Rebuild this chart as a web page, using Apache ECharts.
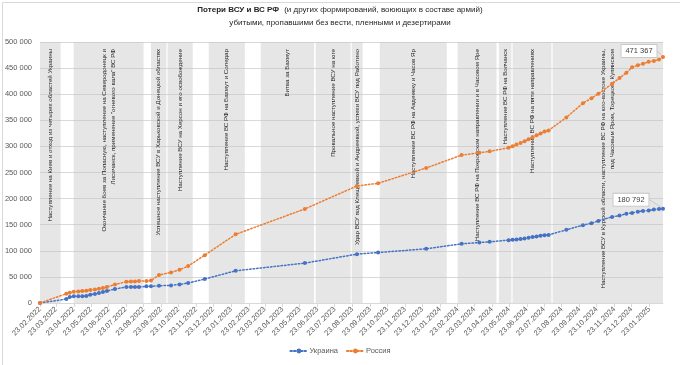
<!DOCTYPE html>
<html>
<head>
<meta charset="utf-8">
<script src="https://cdn.jsdelivr.net/npm/echarts@6/dist/echarts.min.js"></script>
<style>html,body{margin:0;padding:0;background:#fff}#c{width:680px;height:365px}</style>
</head>
<body>
<div id="c"></div>
<script>
var dates = ['2022-02-23','2022-04-10','2022-04-16','2022-04-23','2022-05-01','2022-05-08','2022-05-15','2022-05-22','2022-05-30','2022-06-06','2022-06-13','2022-06-20','2022-07-04','2022-07-24','2022-08-01','2022-08-08','2022-08-15','2022-08-28','2022-09-05','2022-09-19','2022-10-10','2022-10-25','2022-11-09','2022-12-08','2023-01-31','2023-06-01','2023-08-31','2023-10-07','2023-12-30','2024-03-01','2024-04-01','2024-04-19','2024-05-22','2024-05-29','2024-06-05','2024-06-12','2024-06-19','2024-06-26','2024-07-03','2024-07-10','2024-07-17','2024-07-24','2024-07-31','2024-08-31','2024-09-29','2024-10-14','2024-10-26','2024-11-19','2024-12-02','2024-12-14','2024-12-24','2025-01-03','2025-01-12','2025-01-22','2025-01-31','2025-02-09','2025-02-16'];
var ukraine = [0,7600,11500,12700,12700,12700,13400,15900,17200,19100,21000,22900,26800,30600,30600,30600,30600,31900,31900,33100,33700,35600,38200,45900,61700,76400,93600,96700,103800,113300,115800,117100,120400,121000,121500,122400,123500,124800,126300,127600,129000,130000,130500,140100,149100,152900,157300,164900,167400,171200,172600,175000,176400,177000,178900,180200,180792];
var russia = [0,17800,19700,21600,22200,22900,23500,24800,26000,27300,28700,30600,35600,40700,41300,41300,42000,42000,43200,53500,58500,63600,70700,91700,131500,180200,224200,229300,258600,283400,287800,290500,297400,300400,303500,306700,310100,313800,317700,321400,324900,328400,330600,355400,382800,392300,400800,420000,431000,441000,451500,455500,458500,462000,463600,466500,471367];
var tickLabels = ['23.02.2022','23.03.2022','23.04.2022','23.05.2022','23.06.2022','23.07.2022','23.08.2022','23.09.2022','23.10.2022','23.11.2022','23.12.2022','23.01.2023','23.02.2023','23.03.2023','23.04.2023','23.05.2023','23.06.2023','23.07.2023','23.08.2023','23.09.2023','23.10.2023','23.11.2023','23.12.2023','23.01.2024','23.02.2024','23.03.2024','23.04.2024','23.05.2024','23.06.2024','23.07.2024','23.08.2024','23.09.2024','23.10.2024','23.11.2024','23.12.2024','23.01.2025'];
var bandStart = ['2022-02-23','2022-04-23','2022-09-05','2022-10-04','2022-12-15','2023-03-16','2023-06-20','2023-08-22','2023-10-10','2024-02-23','2024-05-05','2024-05-29','2024-08-07'];
var bandEnd = ['2022-03-31','2022-08-23','2022-10-02','2022-11-17','2023-02-16','2023-06-17','2023-08-20','2023-09-10','2024-02-04','2024-05-01','2024-05-27','2024-08-05','2025-02-16'];
var bandText = [
  'Наступление на Киев и отход из четырех областей Украины',
  'Окончание боев за Попасную, наступление на Северодонецк и\nЛисичанск, применение "огневого вала" ВС РФ',
  'Успешное наступление ВСУ в Харьковской и Донецкой областях',
  'Наступление ВСУ на Херсон и его освобождение',
  'Наступление ВС РФ на Бахмут и Соледар',
  'Битва за Бахмут',
  'Провальное наступление ВСУ на юге',
  'Удар ВСУ под Клещеевкой и Андреевкой, успехи ВСУ под Работино',
  'Наступление ВС РФ на Авдеевку и Часов Яр',
  'Наступление ВС РФ на Покровском направлении и в Часовом Яре',
  'Наступление ВС РФ на Волчанск',
  'Наступление ВС РФ на пяти направлениях',
  'Наступление ВСУ в Курской области, наступление ВС РФ на юго-востоке Украины,\nпод Часовым Яром, Торецком, Купянском'
];
var seriesNames = ['Украина','Россия'];
var colors = ['#4472C4','#ED7D31'];

function parseD(s){ var p = s.split('-'); return new Date(+p[0], +p[1]-1, +p[2]).getTime(); }
function parseLbl(s){ var p = s.split('.'); return new Date(+p[2], +p[1]-1, +p[0]).getTime(); }
function pad(n){ return (n<10?'0':'')+n; }
function fmtDate(v){ var d = new Date(v); return pad(d.getDate())+'.'+pad(d.getMonth()+1)+'.'+d.getFullYear(); }
function fmtNum(v){ return String(Math.round(v)).replace(/\B(?=(\d{3})+(?!\d))/g,' '); }

var tickVals = tickLabels.map(parseLbl);
var FONT = 'Liberation Sans, Arial, sans-serif';

function buildData(vals){
  return dates.map(function(d,i){
    var item = { value: [parseD(d), vals[i]] };
    if (i === dates.length-1) {
      item.label = { show: true };
      item.labelLine = { show: true };
    }
    return item;
  });
}

var areas = bandStart.map(function(s,i){
  return [{ xAxis: parseD(s), yAxis: 0, label: { formatter: bandText[i] } }, { xAxis: parseD(bandEnd[i]), yAxis: 500000 }];
});

var chart = echarts.init(document.getElementById('c'), null, {renderer:'canvas'});
chart.setOption({
  animation: false,
  backgroundColor: '#fff',
  title: {
    left: 'center', top: 3, padding: 0,
    text: '{b|Потери ВСУ и ВС РФ} {n|(и других формирований, воюющих в составе армий)}\n{n|убитыми, пропавшими без вести, пленными и дезертирами}',
    textStyle: {
      lineHeight: 13, fontWeight: 'normal',
      rich: {
        b: { fontFamily: FONT, fontSize: 8, fontWeight: 'bold', color: '#262626', lineHeight: 13 },
        n: { fontFamily: FONT, fontSize: 8, fontWeight: 'normal', color: '#262626', lineHeight: 13 }
      }
    }
  },
  graphic: [{ type: 'rect', left: 0, top: 0, shape: { width: 679, height: 363 }, style: { fill: 'none', stroke: '#d9d9d9', lineWidth: 1 }, silent: true }],
  legend: {
    bottom: 5, left: 'center', itemWidth: 17, itemHeight: 6, itemGap: 8,
    textStyle: { fontFamily: FONT, fontSize: 7.5, color: '#595959', padding: [0,0,0,-3] },
    data: seriesNames
  },
  grid: { left: 40, right: 17, top: 42, bottom: 62, containLabel: false },
  xAxis: {
    type: 'value',
    min: parseD(dates[0]),
    max: parseD(dates[dates.length-1]),
    splitLine: { show: false },
    axisLine: { lineStyle: { color: '#d9d9d9' } },
    axisTick: { show: true, length: 4, lineStyle: { color: '#d9d9d9' }, customValues: tickVals },
    axisLabel: {
      customValues: tickVals, rotate: 45, fontFamily: FONT, fontSize: 7.5, color: '#595959', margin: 5,
      formatter: function(v){ return fmtDate(v); }, hideOverlap: false, showMinLabel: true, showMaxLabel: true
    }
  },
  yAxis: {
    type: 'value', min: 0, max: 500000, interval: 50000,
    axisLine: { show: false }, axisTick: { show: false },
    splitLine: { lineStyle: { color: '#d9d9d9', width: 1 } },
    axisLabel: { fontFamily: FONT, fontSize: 7.5, color: '#595959', margin: 8, formatter: function(v){ return fmtNum(v); } }
  },
  series: [
    {
      name: 'bands', type: 'line', data: [], silent: true,
      markArea: {
        silent: true,
        itemStyle: { color: 'rgba(195,195,195,0.42)' },
        label: { show: true, position: 'insideTop', rotate: 90, align: 'right', verticalAlign: 'middle', distance: 7,
                 fontFamily: FONT, fontSize: 6.2, color: '#1f1f1f', lineHeight: 9 },
        data: areas
      }
    },
    {
      name: seriesNames[0], type: 'line', data: buildData(ukraine), z: 5,
      color: colors[0], symbol: 'circle', symbolSize: 4, showAllSymbol: true,
      lineStyle: { color: colors[0], width: 1.5, type: [1.5, 2], cap: 'round' },
      itemStyle: { color: colors[0] },
      label: { show: false, position: 'inside', formatter: function(p){ return fmtNum(p.value[1]); },
               fontFamily: FONT, fontSize: 7.5, color: '#404040', backgroundColor: '#fff', borderColor: '#bfbfbf', borderWidth: 0.8, padding: [2,4] },
      labelLine: { show: true, lineStyle: { color: '#bfbfbf', width: 0.8 } },
      labelLayout: { dx: -32, dy: -9 }
    },
    {
      name: seriesNames[1], type: 'line', data: buildData(russia), z: 5,
      color: colors[1], symbol: 'circle', symbolSize: 4, showAllSymbol: true,
      lineStyle: { color: colors[1], width: 1.5, type: [1.5, 2], cap: 'round' },
      itemStyle: { color: colors[1] },
      label: { show: false, position: 'inside', formatter: function(p){ return fmtNum(p.value[1]); },
               fontFamily: FONT, fontSize: 7.5, color: '#404040', backgroundColor: '#fff', borderColor: '#bfbfbf', borderWidth: 0.8, padding: [2,4] },
      labelLine: { show: true, lineStyle: { color: '#bfbfbf', width: 0.8 } },
      labelLayout: { dx: -24, dy: -6 }
    }
  ]
});
</script>
</body>
</html>
